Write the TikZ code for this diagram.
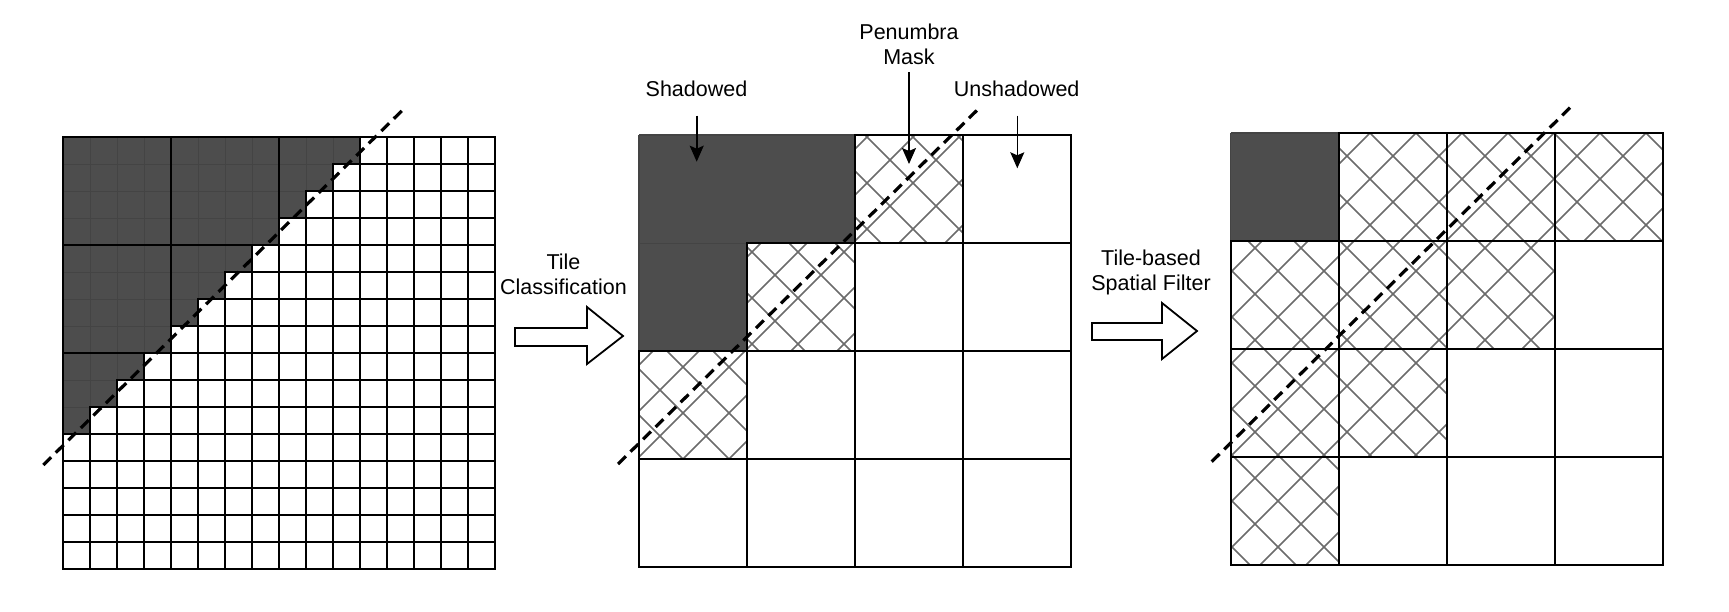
\documentclass[tikz,border=0pt]{standalone}
\usepackage{fontspec}
\setmainfont{Liberation Sans}
\usetikzlibrary{arrows.meta}
\definecolor{shadowfill}{HTML}{4D4D4D}
\definecolor{shadeline}{HTML}{444444}
\definecolor{hatchgray}{HTML}{6B6B6B}
\tikzset{
  cellline/.style={draw=black,line width=1pt},
  darkcell/.style={fill=shadowfill,draw=shadeline,line width=0.5pt},
  hatchline/.style={draw=hatchgray,line width=0.75pt},
  tileline/.style={draw=black,line width=0.6pt},
  diag/.style={draw=black,line width=1.6pt,dash pattern=on 5.5pt off 3.3pt},
  lbl/.style={font=\fontsize{10.75}{12.6}\selectfont,inner sep=0pt,anchor=base},
  pointer/.style={draw=black,line width=0.8pt,-{Stealth[length=8pt,width=7pt,inset=1.5pt]}},
  blockarrow/.style={draw=black,fill=white,line width=0.9pt,line join=miter}
}
\newcommand\hatchcell[4]{%
  \pgfmathsetmacro\hx{#1}%
  \pgfmathsetmacro\hy{#2}%
  \pgfmathsetmacro\hba{#3+46*floor((\hx+\hy-#3)/46)}%
  \pgfmathsetmacro\hbb{#4+46*floor((\hx-\hy-108-#4)/46)}%
  \begin{scope}
    \clip (\hx,\hy) rectangle ++(108,108);
    \foreach \k in {0,...,6}{
      \draw[hatchline] (\hba+46*\k-\hy,\hy) -- ++(-108,108);
      \draw[hatchline] (\hbb+46*\k+\hy,\hy) -- ++(108,108);
    }
  \end{scope}
  \draw[cellline] (\hx,\hy) rectangle ++(108,108);
}
\begin{document}
\begin{tikzpicture}[x=0.5pt,y=-0.5pt]
\useasboundingbox (0,0) rectangle (1729,611);

% ---------------- left fine grid ----------------
\foreach \r in {0,...,10}{
  \pgfmathtruncatemacro\lastc{10-\r}
  \foreach \c in {0,...,\lastc}{
    \draw[darkcell] (63+27*\c,137+27*\r) rectangle ++(27,27);
  }
}
\foreach \r in {0,...,15}{
  \pgfmathtruncatemacro\firstc{max(0,11-\r)}
  \foreach \c in {\firstc,...,15}{
    \draw[cellline] (63+27*\c,137+27*\r) rectangle ++(27,27);
  }
}
\foreach \k in {1,2,3}{
  \draw[tileline] (63+108*\k,137) -- ++(0,432);
  \draw[tileline] (63,137+108*\k) -- ++(432,0);
}
\draw[cellline] (63,137) rectangle (495,569);

% ---------------- middle tile grid ----------------
\fill[shadowfill] (639,135) -- (855,135) -- (855,243) -- (747,243) -- (747,351) -- (639,351) -- cycle;
\draw[shadeline,line width=0.5pt] (639,243) -- (747,243);
\draw[shadeline,line width=0.8pt] (639,135) -- (855,135) (639,135) -- (639,351);
\foreach \c/\r in {2/0,1/1,0/2}{
  \hatchcell{639+108*\c}{135+108*\r}{38}{40}
}
\foreach \c/\r in {3/0,2/1,3/1,1/2,2/2,3/2,0/3,1/3,2/3,3/3}{
  \draw[cellline] (639+108*\c,135+108*\r) rectangle ++(108,108);
}

% ---------------- right tile grid ----------------
\fill[shadowfill] (1230.5,133) rectangle ++(108,108);
\draw[shadeline,line width=0.8pt] (1230.5,133) -- ++(108,0) (1230.5,133) -- ++(0,108);
\foreach \c/\r in {1/0,2/0,3/0,0/1,1/1,2/1,0/2,1/2,0/3}{
  \hatchcell{1230.5+108*\c}{133+108*\r}{31}{41}
}
\foreach \c/\r in {3/1,2/2,3/2,1/3,2/3,3/3}{
  \draw[cellline] (1230.5+108*\c,133+108*\r) rectangle ++(108,108);
}

% ---------------- dashed shadow edges ----------------
\coordinate (dla) at (43.3,465);   \coordinate (dlb) at (403.3,109.3);
\coordinate (dma) at (618,464);    \coordinate (dmb) at (980,107.3);
\coordinate (dra) at (1211.7,461.7); \coordinate (drb) at (1571.7,106);
\draw[diag] (dla) -- (dlb);
\draw[diag] (dma) -- (dmb);
\draw[diag] (dra) -- (drb);

% ---------------- labels and pointers ----------------
\node[lbl] (shad) at (696.5,96.7) {Shadowed};
\node[lbl] (pen1) at (909,39.5) {Penumbra};
\node[lbl] (pen2) at (909,64) {Mask};
\node[lbl] (unsh) at (1016.7,96.7) {Unshadowed};
\coordinate (shadS) at (696.7,115.7); \coordinate (shadE) at (696.7,161.7);
\coordinate (penS) at (909,72);       \coordinate (penE) at (909,164);
\coordinate (unshS) at (1017.3,115.7); \coordinate (unshE) at (1017.3,168.3);
\draw[pointer] (shadS) -- (shadE);
\draw[pointer] (penS) -- (penE);
\draw[pointer] (unshS) -- (unshE);

\node[lbl] (tc1) at (563.5,269) {Tile};
\node[lbl] (tc2) at (563.5,294) {Classification};
\node[lbl] (sf1) at (1151,265) {Tile-based};
\node[lbl] (sf2) at (1151,290) {Spatial Filter};

% ---------------- block arrows ----------------
\draw[blockarrow] (515,328) -- (587,328) -- (587,307) -- (623,336) -- (587,364) -- (587,346) -- (515,346) -- cycle;
\draw[blockarrow] (1092,323) -- (1162,323) -- (1162,303) -- (1197,331) -- (1162,359) -- (1162,340) -- (1092,340) -- cycle;
\end{tikzpicture}
\end{document}
